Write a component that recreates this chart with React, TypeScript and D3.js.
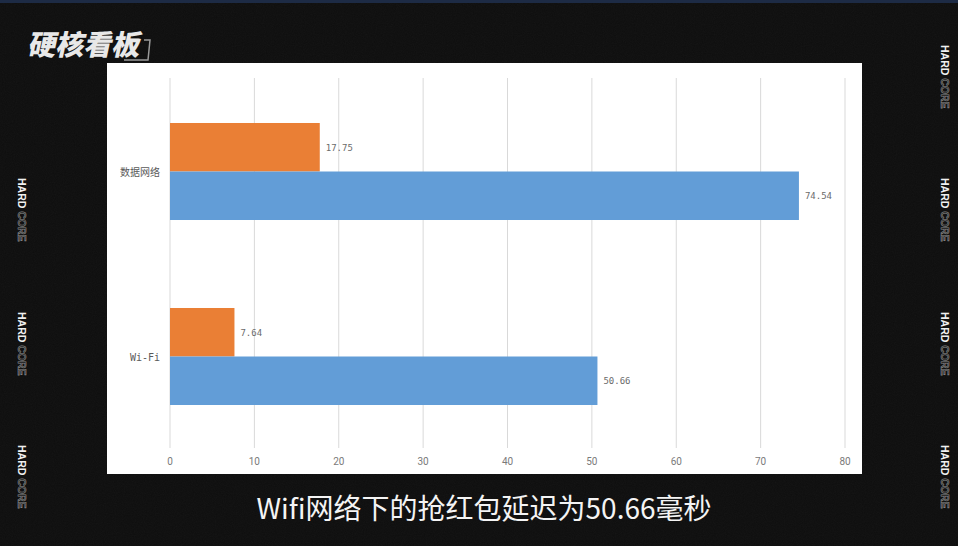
import React, { useEffect, useRef } from 'react';
import * as d3 from 'd3';

const categories = ['数据网络', 'Wi-Fi'];
const seriesNames = ['top', 'bottom'];
const orangeValues = [17.75, 7.64];
const blueValues = [74.54, 50.66];
const xTicks = [0, 10, 20, 30, 40, 50, 60, 70, 80];
const subtitle = 'Wifi网络下的抢红包延迟为50.66毫秒';
const logoText = '硬核看板';
const sideMarkRows = [45, 178, 312, 445];

const W = 958;
const H = 546;

const App: React.FC = () => {
  const svgRef = useRef<SVGSVGElement | null>(null);

  useEffect(() => {
    if (!svgRef.current) return;
    const svg = d3.select(svgRef.current);
    svg.selectAll('*').remove();

    // noise texture for the dark background
    const defs = svg.append('defs');
    const f = defs.append('filter').attr('id', 'grain').attr('x', 0).attr('y', 0).attr('width', '100%').attr('height', '100%');
    f.append('feTurbulence').attr('type', 'fractalNoise').attr('baseFrequency', 0.9).attr('numOctaves', 2).attr('result', 'n');
    f.append('feColorMatrix').attr('type', 'saturate').attr('values', 0);

    svg.append('rect').attr('width', W).attr('height', H).attr('fill', '#0e0e0e');
    svg.append('rect').attr('width', W).attr('height', H).attr('filter', 'url(#grain)').attr('opacity', 0.04);
    svg.append('rect').attr('width', W).attr('height', 3).attr('fill', '#1d2b45');

    // white chart panel
    const panel = { x: 107, y: 63, w: 755, h: 411 };
    svg.append('rect')
      .attr('x', panel.x).attr('y', panel.y)
      .attr('width', panel.w).attr('height', panel.h)
      .attr('fill', '#ffffff');

    const x = d3.scaleLinear().domain([0, 80]).range([170, 845]);
    const y = d3.scaleBand().domain(categories).range([79, 449]);
    const inner = d3.scaleBand().domain(seriesNames).range([0, y.bandwidth()])
      .paddingInner(0).paddingOuter(0.907);

    const g = svg.append('g');

    // vertical grid lines
    g.selectAll('.grid')
      .data(xTicks)
      .enter()
      .append('line')
      .attr('x1', d => x(d)).attr('x2', d => x(d))
      .attr('y1', 78).attr('y2', 448)
      .attr('stroke', '#d9d9d9').attr('stroke-width', 1);

    // tick labels
    g.selectAll('.tick')
      .data(xTicks)
      .enter()
      .append('text')
      .attr('x', d => x(d)).attr('y', 465)
      .attr('text-anchor', 'middle')
      .attr('font-family', 'Roboto, "Noto Sans", sans-serif')
      .attr('font-size', 10)
      .attr('fill', '#7a7a7a')
      .text(d => d);

    const rows = categories.map((c, i) => ({ c, orange: orangeValues[i], blue: blueValues[i] }));

    // bars
    rows.forEach(r => {
      const base = y(r.c) || 0;
      [
        { key: 'top', v: r.orange, color: '#ea7f35' },
        { key: 'bottom', v: r.blue, color: '#629dd7' },
      ].forEach(s => {
        const yy = base + (inner(s.key) || 0);
        g.append('rect')
          .attr('x', x(0)).attr('y', yy)
          .attr('width', x(s.v) - x(0))
          .attr('height', inner.bandwidth())
          .attr('fill', s.color);
        g.append('text')
          .attr('x', x(s.v) + 6).attr('y', yy + inner.bandwidth() / 2 + 3.5)
          .attr('font-family', '"DejaVu Sans Mono", monospace')
          .attr('font-size', 9)
          .attr('fill', '#6b6b6b')
          .text(String(s.v));
      });

      g.append('text')
        .attr('x', 160).attr('y', base + y.bandwidth() / 2 + 4)
        .attr('text-anchor', 'end')
        .attr('font-family', r.c === 'Wi-Fi' ? '"DejaVu Sans Mono", monospace' : '"Noto Sans CJK SC", sans-serif')
        .attr('font-size', 10)
        .attr('fill', '#595959')
        .text(r.c);
    });

    // logo
    svg.append('text')
      .attr('x', 28).attr('y', 55)
      .attr('transform', 'skewX(-12) translate(11,0)')
      .attr('font-family', '"Noto Sans CJK SC", sans-serif')
      .attr('font-weight', 900)
      .attr('font-size', 28)
      .attr('fill', '#e8e8e8')
      .text(logoText);
    svg.append('path')
      .attr('d', 'M144,40 L150,40 L148,60 L124,60')
      .attr('fill', 'none')
      .attr('stroke', '#9a9a9a')
      .attr('stroke-width', 1.5);

    // side "HARD CORE" marks
    const cols = [22, 945];
    cols.forEach(cx => {
      sideMarkRows.forEach(ry => {
        if (cx < 100 && ry < 100) return;
        const t = svg.append('text')
          .attr('transform', `translate(${cx - 4},${ry}) rotate(90)`)
          .attr('font-family', '"Liberation Sans", Arial, sans-serif')
          .attr('font-weight', 700)
          .attr('font-size', 10.5);
        t.append('tspan').attr('fill', '#f0f0f0').text('HARD');
        t.append('tspan').attr('fill', '#2a2a2a').attr('stroke', '#8a8a8a').attr('stroke-width', 0.6).text(' CORE');
      });
    });

    // subtitle
    svg.append('text')
      .attr('x', 484).attr('y', 519)
      .attr('text-anchor', 'middle')
      .attr('font-family', '"Noto Sans CJK SC", sans-serif')
      .attr('font-size', 28)
      .attr('fill', '#f4f4f4')
      .text(subtitle);
  }, []);

  return (
    <div style={{ position: 'fixed', left: 0, top: 0 }}>
      <svg ref={svgRef} width={W} height={H} style={{ display: 'block' }}></svg>
    </div>
  );
};

export default App;
